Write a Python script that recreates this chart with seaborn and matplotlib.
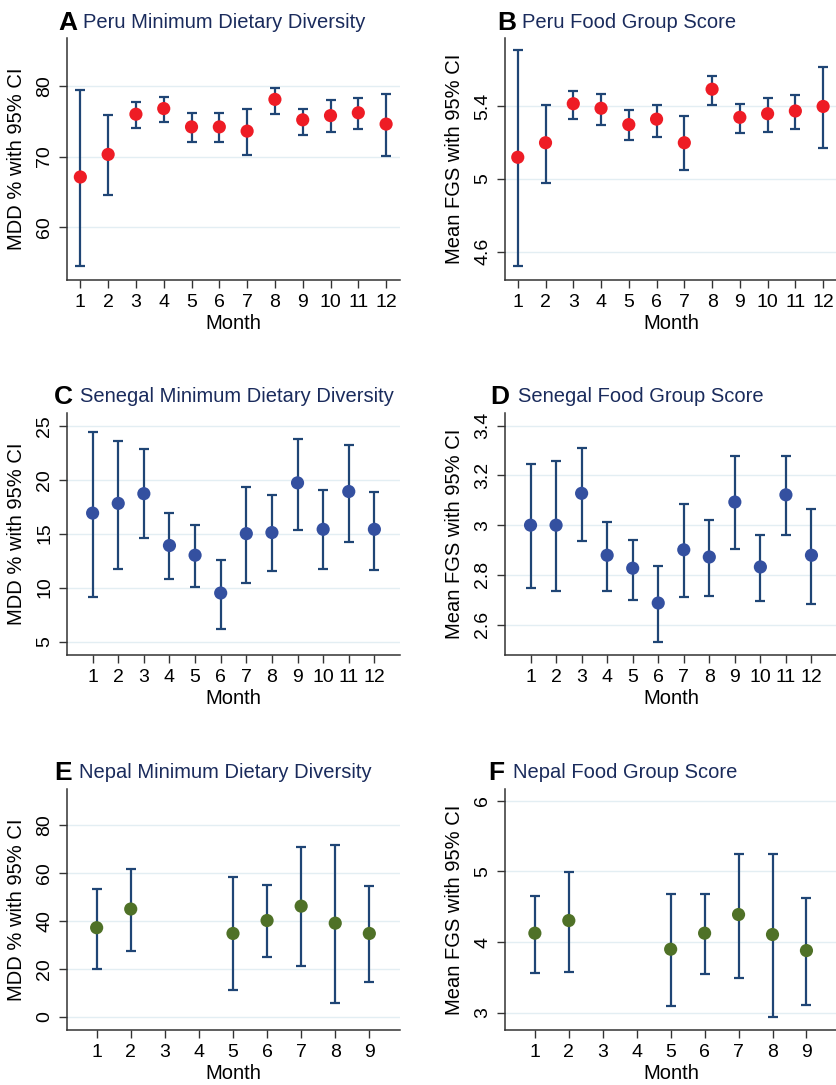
import matplotlib
matplotlib.use("Agg")
import matplotlib.pyplot as plt
import seaborn as sns
import numpy as np
import pandas as pd

sns.set_theme(style="white")
plt.rcParams['font.family'] = ['Liberation Sans', 'DejaVu Sans']

# ---------------- data ----------------
months12 = [1, 2, 3, 4, 5, 6, 7, 8, 9, 10, 11, 12]
months_nepal = [1, 2, 5, 6, 7, 8, 9]

peru_mdd = [67.1, 70.3, 76.0, 76.8, 74.2, 74.2, 73.6, 78.1, 75.2, 75.8, 76.2, 74.6]
peru_mdd_lo = [54.5, 64.6, 74.1, 74.9, 72.1, 72.1, 70.2, 76.0, 73.1, 73.5, 73.9, 70.1]
peru_mdd_hi = [79.5, 75.9, 77.7, 78.5, 76.1, 76.2, 76.8, 79.7, 76.8, 78.0, 78.3, 78.9]

peru_fgs = [5.12, 5.20, 5.415, 5.39, 5.30, 5.33, 5.20, 5.495, 5.34, 5.36, 5.375, 5.40]
peru_fgs_lo = [4.52, 4.98, 5.33, 5.30, 5.215, 5.23, 5.05, 5.41, 5.255, 5.26, 5.275, 5.17]
peru_fgs_hi = [5.71, 5.41, 5.485, 5.47, 5.38, 5.41, 5.345, 5.57, 5.415, 5.445, 5.465, 5.62]

sen_mdd = [16.9, 17.8, 18.7, 13.9, 13.0, 9.5, 15.0, 15.1, 19.7, 15.4, 18.9, 15.4]
sen_mdd_lo = [9.1, 11.7, 14.6, 10.8, 10.1, 6.2, 10.4, 11.5, 15.3, 11.7, 14.2, 11.6]
sen_mdd_hi = [24.4, 23.6, 22.8, 16.9, 15.8, 12.6, 19.3, 18.6, 23.8, 19.0, 23.2, 18.9]

sen_fgs = [3.00, 3.00, 3.128, 2.879, 2.827, 2.687, 2.901, 2.872, 3.093, 2.832, 3.122, 2.879]
sen_fgs_lo = [2.746, 2.737, 2.936, 2.737, 2.699, 2.532, 2.713, 2.714, 2.903, 2.695, 2.962, 2.682]
sen_fgs_hi = [3.244, 3.256, 3.309, 3.011, 2.941, 2.835, 3.087, 3.020, 3.279, 2.961, 3.278, 3.064]

nep_mdd = [37.1, 44.9, 34.7, 40.1, 46.1, 39.0, 34.7]
nep_mdd_lo = [19.9, 27.3, 11.0, 25.0, 21.2, 5.7, 14.5]
nep_mdd_hi = [53.1, 61.5, 58.4, 54.9, 70.8, 71.5, 54.4]

nep_fgs = [4.125, 4.304, 3.898, 4.125, 4.389, 4.106, 3.879]
nep_fgs_lo = [3.567, 3.577, 3.100, 3.544, 3.487, 2.944, 3.104]
nep_fgs_hi = [4.654, 4.994, 4.682, 4.673, 5.249, 5.249, 4.625]

letters = ["A", "B", "C", "D", "E", "F"]
titles = ["Peru Minimum Dietary Diversity", "Peru Food Group Score",
          "Senegal Minimum Dietary Diversity", "Senegal Food Group Score",
          "Nepal Minimum Dietary Diversity", "Nepal Food Group Score"]
ylabels = ["MDD % with 95% CI", "Mean FGS with 95% CI"] * 3
yticks_list = [[60, 70, 80], [4.6, 5.0, 5.4], [5, 10, 15, 20, 25],
               [2.6, 2.8, 3.0, 3.2, 3.4], [0, 20, 40, 60, 80], [3, 4, 5, 6]]
ytick_labels = [["60", "70", "80"], ["4.6", "5", "5.4"], ["5", "10", "15", "20", "25"],
                ["2.6", "2.8", "3", "3.2", "3.4"], ["0", "20", "40", "60", "80"],
                ["3", "4", "5", "6"]]
ylims = [(52.5, 86.8), (4.444, 5.777), (3.76, 26.17), (2.478, 3.451), (-5.6, 95.0), (2.755, 6.165)]
xlims = [(0.52, 12.5), (0.54, 12.5), (0, 13), (0, 13), (0.13, 9.9), (0.12, 9.9)]
xticks_list = [months12, months12, months12, months12,
               [1, 2, 3, 4, 5, 6, 7, 8, 9], [1, 2, 3, 4, 5, 6, 7, 8, 9]]

series = [
    (months12, peru_mdd, peru_mdd_lo, peru_mdd_hi),
    (months12, peru_fgs, peru_fgs_lo, peru_fgs_hi),
    (months12, sen_mdd, sen_mdd_lo, sen_mdd_hi),
    (months12, sen_fgs, sen_fgs_lo, sen_fgs_hi),
    (months_nepal, nep_mdd, nep_mdd_lo, nep_mdd_hi),
    (months_nepal, nep_fgs, nep_fgs_lo, nep_fgs_hi),
]
point_colors = ["#ee1c25", "#ee1c25", "#3450a0", "#3450a0", "#4f7127", "#4f7127"]
bar_color = "#1f4575"
title_color = "#1a2b5c"
grid_color = "#e3eef3"

# ---------------- layout (pixels) ----------------
W, H = 837, 1085
fig = plt.figure(figsize=(W / 100, H / 100), dpi=100)
fig.patch.set_facecolor("white")

col_lr = [(67, 400), (505, 837)]
row_tb = [(38, 280), (413, 655), (789, 1030)]
title_pos = [(83, 23), (522, 23), (80, 397), (518, 397), (79, 773), (513, 773)]
letter_x = [58, 497, 54, 490, 54, 488]

for i in range(6):
    r, c = divmod(i, 2)
    l, rr = col_lr[c]
    t, b = row_tb[r]
    ax = fig.add_axes([l / W, 1 - b / H, (rr - l) / W, (b - t) / H])
    ax.set_facecolor("white")
    x, y, lo, hi = series[i]
    df = pd.DataFrame({"Month": x, "val": y, "lo": lo, "hi": hi})
    yerr = np.vstack([df["val"] - df["lo"], df["hi"] - df["val"]])
    ax.errorbar(df["Month"], df["val"], yerr=yerr, fmt="none", ecolor=bar_color,
                elinewidth=1.6, capsize=3.6, capthick=1.6, zorder=2)
    sns.scatterplot(data=df, x="Month", y="val", ax=ax, color=point_colors[i],
                    s=90, edgecolor="none", linewidth=0, zorder=3)
    ax.set_xlim(*xlims[i])
    ax.set_ylim(*ylims[i])
    ax.set_yticks(yticks_list[i])
    ax.set_yticklabels(ytick_labels[i], rotation=90, va="center")
    ax.set_xticks(xticks_list[i])
    ax.set_xticklabels([str(v) for v in xticks_list[i]])
    for yv in yticks_list[i]:
        ax.axhline(yv, color=grid_color, lw=1.0, zorder=0)
    ax.grid(False)
    for s in ["top", "right"]:
        ax.spines[s].set_visible(False)
    for s in ["left", "bottom"]:
        ax.spines[s].set_color("#333333")
        ax.spines[s].set_linewidth(1.1)
    ax.tick_params(axis="both", direction="out", length=6, width=1.0, color="#333333",
                   labelsize=14, labelcolor="black", pad=4, left=True, bottom=True)
    ax.set_xlabel("Month", fontsize=14.5, color="black", labelpad=2)
    ax.set_ylabel(ylabels[i], fontsize=14.5, color="black", labelpad=7)

    tx, ty = title_pos[i]
    fig.text(tx / W, 1 - ty / H, titles[i], fontsize=14.5, color=title_color,
             ha="left", va="center")
    fig.text(letter_x[i] / W, 1 - ty / H, letters[i], fontsize=19, fontweight="bold",
             color="black", ha="left", va="center")

fig.savefig("out.png", dpi=100, facecolor="white")
